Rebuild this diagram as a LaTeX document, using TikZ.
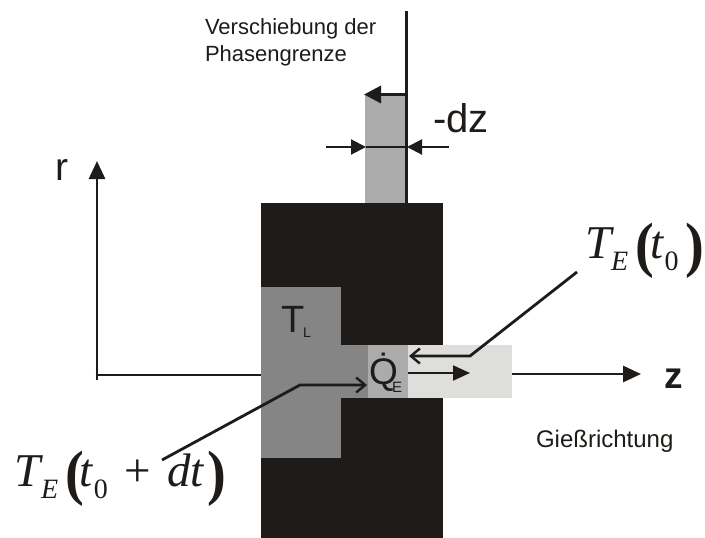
\documentclass[tikz,border=0pt]{standalone}
\usepackage{fontspec}
\setmainfont{Liberation Sans}
\newfontfamily\serifit{Liberation Serif}
\usetikzlibrary{arrows.meta}
\definecolor{ink}{HTML}{1E1B18}
\definecolor{tgray}{HTML}{858585}
\definecolor{qgray}{HTML}{ABABAB}
\definecolor{lgray}{HTML}{DEDEDC}
\definecolor{bargray}{HTML}{ABABAB}
\newcommand{\fsz}[1]{\fontsize{#1}{#1}\selectfont}
\newcommand{\biglp}[1]{\raisebox{-0.16em}{\scalebox{1.2}[1.3]{\bfseries #1}}}
\newcommand{\mysub}[1]{\raisebox{-0.27em}{\fsz{28}#1}}
\tikzset{
  x=1pt,y=-1pt,
  lab/.style={inner sep=0pt,outer sep=0pt,text=ink,align=left},
  region/.style={inner sep=0pt,outer sep=0pt,draw=none,anchor=north west},
  axis/.style={draw=ink,line width=2.8pt,-{Triangle[length=18pt,width=16pt]}},
  thin arr/.style={draw=ink,line width=2pt,-{Triangle[length=15pt,width=15pt]}},
  leader/.style={draw=ink,line width=2.8pt,line join=miter,-{Straight Barb[length=9pt,width=15pt,line width=2.4pt]}},
  plainline/.style={draw=ink,line width=2.8pt},
  serifmath/.style={inner sep=0pt,outer sep=0pt,text=ink,font=\serifit\fsz{47}},
}
\begin{document}
\begin{tikzpicture}
\useasboundingbox (0,0) rectangle (705,538);
\fill[white] (0,0) rectangle (705,538);
% body
\node[region,fill=ink,minimum width=182pt,minimum height=335pt] (body) at (261,203) {};
\node[region,fill=tgray,minimum width=80pt,minimum height=171pt] (liquid) at (261,287) {};
\node[region,fill=tgray,minimum width=30pt,minimum height=53pt] (neck) at (340,345) {};
\node[region,fill=qgray,minimum width=40pt,minimum height=53pt] (qzone) at (368,345) {};
\node[region,fill=lgray,minimum width=104pt,minimum height=53pt] (casting) at (408,345) {};
\node[region,fill=bargray,minimum width=41pt,minimum height=108pt] (bar) at (365,95) {};
% phase boundary
\coordinate (ptop) at (406.5,11);
\coordinate (pbot) at (406.5,203);
\draw[draw=ink,line width=3pt] (ptop) -- (pbot);
\coordinate (pa) at (406.5,94.5);
\coordinate (pb) at (364,94.5);
\draw[draw=ink,line width=3.2pt,-{Triangle[length=17pt,width=17pt]}] (pa) -- (pb);
% dz
\coordinate (dl0) at (326,147);
\coordinate (dl1) at (366,147);
\coordinate (dr0) at (449,147);
\coordinate (dr1) at (407,147);
\draw[thin arr] (dl0) -- (dl1);
\draw[thin arr] (dr0) -- (dr1);
\draw[draw=ink,line width=1.4pt] (dl1) -- (dr1);
% axes
\coordinate (o) at (97,375);
\coordinate (rtop) at (97,161);
\coordinate (zend) at (641,374);
\draw[axis] (97,380) -- (rtop);
\draw[plainline] (95.6,375) -- (liquid.west |- o);
\draw[axis] (casting.east |- zend) -- (zend);
% casting arrow
\coordinate (ca) at (408,373);
\coordinate (cb) at (470,373);
\draw[draw=ink,line width=2pt,-{Triangle[length=17pt,width=15pt]}] (ca) -- (cb);
% leaders
\coordinate (l1a) at (577,272);
\coordinate (l1b) at (470,356);
\coordinate (l1c) at (409,356);
\draw[leader] (l1a) -- (l1b) -- (l1c);
\coordinate (l2a) at (162,460);
\coordinate (l2b) at (300,385);
\coordinate (l2c) at (367,385);
\draw[leader] (l2a) -- (l2b) -- (l2c);
% labels
\node[lab,anchor=north west,font=\fontsize{22}{27}\selectfont] (title) at (205,19) {Verschiebung der\\Phasengrenze};
\node[lab,anchor=base west,font=\fsz{40}] (dz) at (433,132) {-dz};
\node[lab,anchor=base west,font=\fsz{39}] (r) at (55,180) {r};
\node[lab,anchor=base west,font=\bfseries\fsz{37}] (z) at (664,388) {z};
\node[lab,anchor=base west,font=\fsz{24}] (giess) at (536,447) {Gießrichtung};
\node[lab,anchor=base west,font=\fsz{38}] (tl) at (281,332) {T};
\node[lab,anchor=base west,font=\fsz{14}] (tls) at (303,337) {L};
\node[lab,anchor=base west,font=\fsz{37}] (q) at (369,384) {\.Q};
\node[lab,anchor=base west,font=\fsz{15}] (qs) at (392,392) {E};
\node[serifmath,anchor=base west] (te1) at (585,258) {\textit{T}\kern-0.06em\mysub{\textit{E}}\kern0.16em\biglp{(}\kern-0.08em\textit{t}\kern0.0em\mysub{0}\kern0.14em\biglp{)}};
\node[serifmath,anchor=base west] (te2) at (15,486) {\textit{T}\kern-0.06em\mysub{\textit{E}}\kern0.16em\biglp{(}\kern-0.1em\textit{t}\kern0.0em\mysub{0}\kern0.36em+\kern0.34em\textit{dt}\kern0.06em\biglp{)}};
\end{tikzpicture}
\end{document}
